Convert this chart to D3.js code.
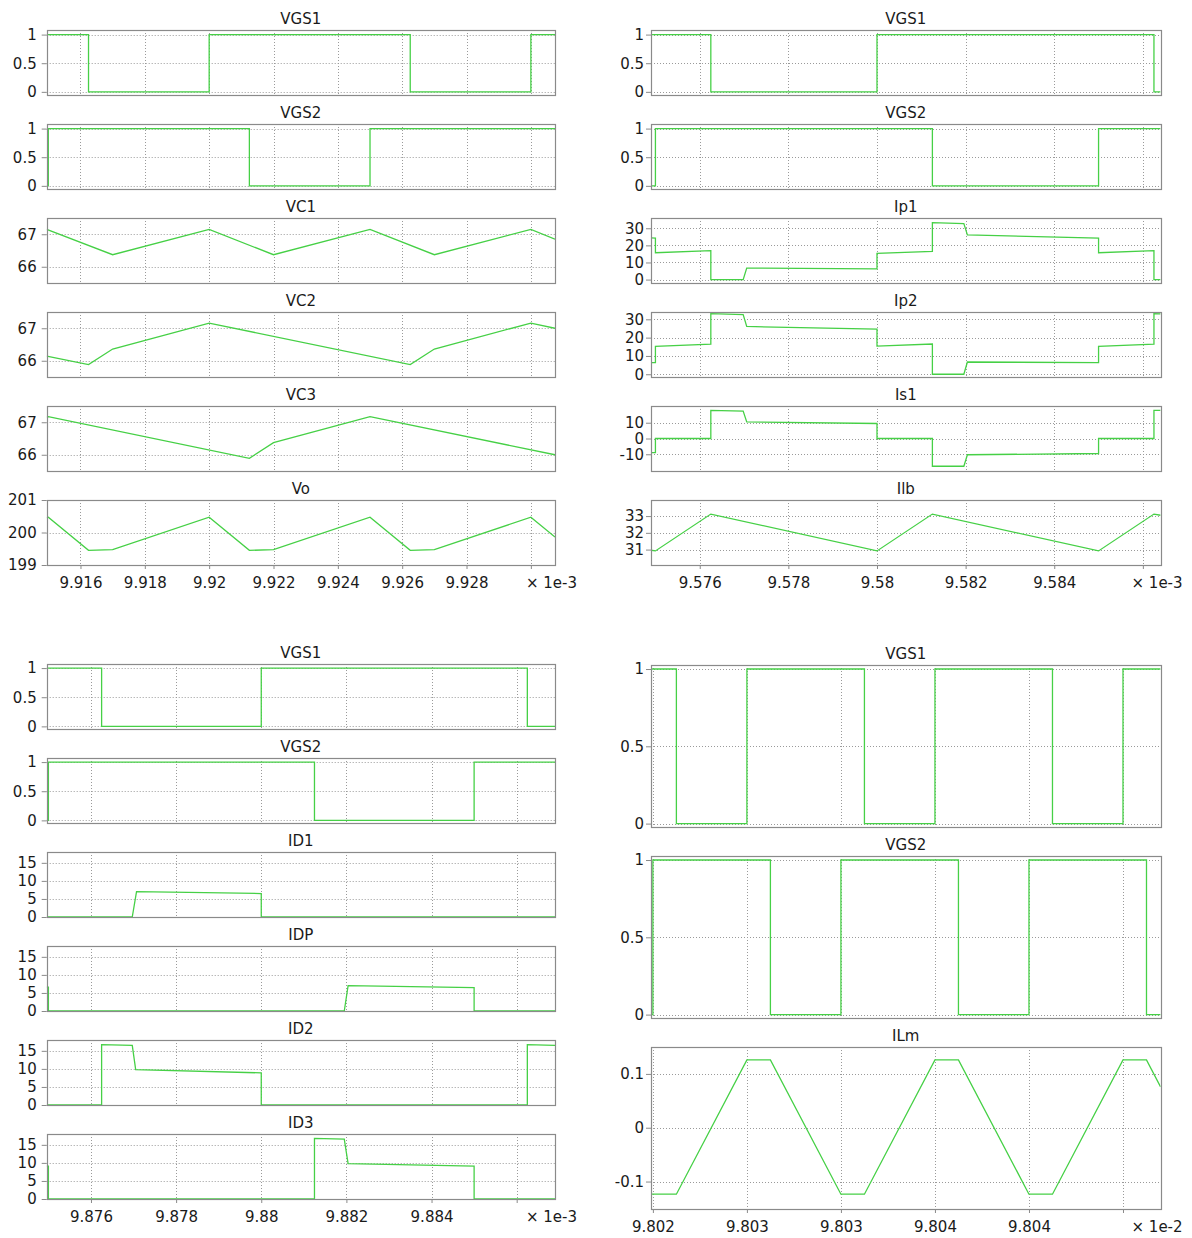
<!DOCTYPE html>
<html><head><meta charset="utf-8">
<script src="https://cdn.jsdelivr.net/npm/d3@7"></script>
<style>
body{margin:0;background:#fff;}
svg text{font-family:"DejaVu Sans",Verdana,sans-serif;font-size:15px;fill:#1a1a1a;}
</style>
</head><body>
<svg id="chart" width="1192" height="1238"></svg>
<script>
// ---------- DATA (time in displayed axis units, value) ----------
// Top-left quadrant (x × 1e-3)
const tlXDomain = [9.91495, 9.93075];
const tlXTicks = [9.916, 9.918, 9.920, 9.922, 9.924, 9.926, 9.928, 9.930];
const tlXLabels = ["9.916","9.918","9.92","9.922","9.924","9.926","9.928",""];
const tlVGS1 = [[9.91495,1],[9.91625,1],[9.91625,0],[9.920,0],[9.920,1],[9.92625,1],[9.92625,0],[9.930,0],[9.930,1],[9.93075,1]];
const tlVGS2 = [[9.91495,0],[9.915,0],[9.915,1],[9.92125,1],[9.92125,0],[9.925,0],[9.925,1],[9.93075,1]];
const tlVC1 = [[9.91495,67.15],[9.917,66.37],[9.920,67.15],[9.922,66.37],[9.925,67.15],[9.927,66.37],[9.930,67.15],[9.93075,66.85]];
const tlVC2 = [[9.91495,66.14],[9.91625,65.88],[9.917,66.36],[9.920,67.16],[9.92625,65.88],[9.927,66.36],[9.930,67.16],[9.93075,67.0]];
const tlVC3 = [[9.91495,67.16],[9.915,67.17],[9.92125,65.89],[9.922,66.37],[9.925,67.17],[9.93075,66.0]];
const tlVo = [[9.91495,200.46],[9.915,200.47],[9.91625,199.45],[9.917,199.47],[9.920,200.47],[9.92125,199.45],[9.922,199.47],[9.925,200.47],[9.92625,199.45],[9.927,199.47],[9.930,200.47],[9.93075,199.86]];

// Top-right quadrant (x × 1e-3)
const trXDomain = [9.5749, 9.5864];
const trXTicks = [9.576, 9.578, 9.580, 9.582, 9.584, 9.586];
const trXLabels = ["9.576","9.578","9.58","9.582","9.584",""];
const trVGS1 = [[9.5749,1],[9.57625,1],[9.57625,0],[9.580,0],[9.580,1],[9.58625,1],[9.58625,0],[9.5864,0]];
const trVGS2 = [[9.5749,0],[9.575,0],[9.575,1],[9.58125,1],[9.58125,0],[9.585,0],[9.585,1],[9.5864,1]];
const trIp1 = [[9.5749,24.4],[9.575,24.3],[9.575,15.7],[9.57625,16.9],[9.57625,0],[9.57698,0],[9.57706,6.7],[9.580,6.3],[9.580,15.3],[9.58125,16.5],[9.58125,33.3],[9.58196,32.7],[9.58204,26.1],[9.585,24.3],[9.585,15.7],[9.58625,16.9],[9.58625,0],[9.5864,0]];
const trIp2 = [[9.5749,6.4],[9.575,6.4],[9.575,15.2],[9.57625,16.5],[9.57625,33.1],[9.57698,32.6],[9.57706,26.1],[9.580,24.6],[9.580,15.4],[9.58125,16.5],[9.58125,0],[9.58196,0],[9.58204,6.7],[9.585,6.3],[9.585,15.2],[9.58625,16.5],[9.58625,33.1],[9.5864,33.0]];
const trIs1 = [[9.5749,-9.0],[9.575,-9.0],[9.575,0],[9.57625,0],[9.57625,17.8],[9.57698,17.4],[9.57706,10.5],[9.580,9.5],[9.580,0],[9.58125,0],[9.58125,-17.6],[9.58196,-17.6],[9.58204,-10.3],[9.585,-9.5],[9.585,0],[9.58625,0],[9.58625,17.8],[9.5864,17.8]];
const trIlb = [[9.5749,30.96],[9.575,30.92],[9.57625,33.12],[9.580,30.92],[9.58125,33.12],[9.585,30.92],[9.58625,33.12],[9.5864,33.05]];

// Bottom-left quadrant (x × 1e-3)
const blXDomain = [9.87496, 9.8869];
const blXTicks = [9.876, 9.878, 9.880, 9.882, 9.884, 9.886];
const blXLabels = ["9.876","9.878","9.88","9.882","9.884",""];
const blVGS1 = [[9.87496,1],[9.87625,1],[9.87625,0],[9.880,0],[9.880,1],[9.88625,1],[9.88625,0],[9.8869,0]];
const blVGS2 = [[9.87496,0],[9.875,0],[9.875,1],[9.88125,1],[9.88125,0],[9.885,0],[9.885,1],[9.8869,1]];
const blID1 = [[9.87496,0],[9.87697,0],[9.87707,7.0],[9.880,6.5],[9.880,0],[9.8869,0]];
const blIDP = [[9.87496,6.6],[9.875,6.6],[9.875,0],[9.88195,0],[9.88204,7.0],[9.885,6.5],[9.885,0],[9.8869,0]];
const blID2 = [[9.87496,0],[9.87625,0],[9.87625,16.7],[9.87697,16.5],[9.87705,9.8],[9.880,8.9],[9.880,0],[9.88625,0],[9.88625,16.7],[9.8869,16.5]];
const blID3 = [[9.87496,9.1],[9.875,9.1],[9.875,0],[9.88125,0],[9.88125,16.8],[9.88195,16.6],[9.88204,9.8],[9.885,9.1],[9.885,0],[9.8869,0]];

// Bottom-right quadrant (x × 1e-2)
const brXDomain = [9.80199, 9.8047];
const brXTicks = [9.802, 9.8025, 9.803, 9.8035, 9.804, 9.8045];
const brXLabels = ["9.802","9.803","9.803","9.804","9.804",""];
const brVGS1 = [[9.80199,1],[9.802125,1],[9.802125,0],[9.8025,0],[9.8025,1],[9.803125,1],[9.803125,0],[9.8035,0],[9.8035,1],[9.804125,1],[9.804125,0],[9.8045,0],[9.8045,1],[9.8047,1]];
const brVGS2 = [[9.80199,0],[9.802,0],[9.802,1],[9.802625,1],[9.802625,0],[9.803,0],[9.803,1],[9.803625,1],[9.803625,0],[9.804,0],[9.804,1],[9.804625,1],[9.804625,0],[9.8047,0]];
const brILm = [[9.80199,-0.1235],[9.802125,-0.1235],[9.8025,0.126],[9.802625,0.126],[9.803,-0.1235],[9.803125,-0.1235],[9.8035,0.126],[9.803625,0.126],[9.804,-0.1235],[9.804125,-0.1235],[9.8045,0.126],[9.804625,0.126],[9.8047,0.076]];

// y tick values
const vgsTicks = [0, 0.5, 1];
const vcTicks = [66, 67];
const voTicks = [199, 200, 201];
const ipTicks = [0, 10, 20, 30];
const isTicks = [-10, 0, 10];
const ilbTicks = [31, 32, 33];
const idTicks = [0, 5, 10, 15];
const ilmTicks = [-0.1, 0, 0.1];

// ---------- LAYOUT ----------
const quadrants = [
  {x0:46.7, x1:555, tops:[30,124,218,312,406,500], h:65, gap:10, xPad:8, xDomain:tlXDomain, xTicks:tlXTicks, xLabels:tlXLabels, exp:"× 1e-3",
   panels:[["VGS1",tlVGS1,[-0.055,1.08],vgsTicks],["VGS2",tlVGS2,[-0.055,1.08],vgsTicks],["VC1",tlVC1,[65.5,67.5],vcTicks],
           ["VC2",tlVC2,[65.5,67.5],vcTicks],["VC3",tlVC3,[65.5,67.5],vcTicks],["Vo",tlVo,[199,201],voTicks]]},
  {x0:651, x1:1160.6, tops:[30,124,218,312,406,500], h:65, gap:7, xPad:8, xDomain:trXDomain, xTicks:trXTicks, xLabels:trXLabels, exp:"× 1e-3",
   panels:[["VGS1",trVGS1,[-0.055,1.08],vgsTicks],["VGS2",trVGS2,[-0.055,1.08],vgsTicks],["Ip1",trIp1,[-2,36],ipTicks],
           ["Ip2",trIp2,[-1.5,34],ipTicks],["Is1",trIs1,[-20.6,20.6],isTicks],["Ilb",trIlb,[30.08,33.96],ilbTicks]]},
  {x0:46.7, x1:555, tops:[664,758,852,946,1040,1134], h:65, gap:10, xPad:8, xDomain:blXDomain, xTicks:blXTicks, xLabels:blXLabels, exp:"× 1e-3",
   panels:[["VGS1",blVGS1,[-0.045,1.07],vgsTicks],["VGS2",blVGS2,[-0.045,1.07],vgsTicks],["ID1",blID1,[0,18],idTicks],
           ["IDP",blIDP,[0,18],idTicks],["ID2",blID2,[0,18],idTicks],["ID3",blID3,[0,18],idTicks]]},
  {x0:651, x1:1160.6, tops:[665,856,1047], h:162, gap:7, xPad:8, xDomain:brXDomain, xTicks:brXTicks, xLabels:brXLabels, exp:"× 1e-2",
   panels:[["VGS1",brVGS1,[-0.022,1.026],vgsTicks],["VGS2",brVGS2,[-0.022,1.026],vgsTicks],["ILm",brILm,[-0.151,0.15],ilmTicks]]}
];

const svg = d3.select("#chart");
const lineColor = "#46d046";
let clipId = 0;

quadrants.forEach(q => {
  const x = d3.scaleLinear().domain(q.xDomain).range([q.x0, q.x1]);
  q.panels.forEach((p, i) => {
    const [title, data, yDom, yTicks] = p;
    const y0 = q.tops[i], y1 = y0 + q.h;
    const y = d3.scaleLinear().domain(yDom).range([y1, y0]);
    const g = svg.append("g");
    const cid = "clip" + (clipId++);
    g.append("clipPath").attr("id", cid).append("rect")
      .attr("x", q.x0).attr("y", y0).attr("width", q.x1 - q.x0).attr("height", q.h);
    // grid
    g.selectAll(".vg").data(q.xTicks).join("line")
      .attr("x1", d => Math.round(x(d)) + 0.5).attr("x2", d => Math.round(x(d)) + 0.5)
      .attr("y1", y0).attr("y2", y1)
      .attr("stroke", "#9a9a9a").attr("stroke-width", 1).attr("stroke-dasharray", "1,2");
    g.selectAll(".hg").data(yTicks).join("line")
      .attr("x1", q.x0).attr("x2", q.x1)
      .attr("y1", d => Math.round(y(d)) + 0.5).attr("y2", d => Math.round(y(d)) + 0.5)
      .attr("stroke", "#9a9a9a").attr("stroke-width", 1).attr("stroke-dasharray", "1,2");
    // signal
    g.append("path").datum(data)
      .attr("clip-path", `url(#${cid})`)
      .attr("fill", "none").attr("stroke", lineColor).attr("stroke-width", 1.3)
      .attr("d", d3.line().x(d => x(d[0])).y(d => y(d[1])));
    // frame
    g.append("rect").attr("x", Math.round(q.x0) + 0.5).attr("y", y0 + 0.5)
      .attr("width", Math.round(q.x1 - q.x0)).attr("height", q.h)
      .attr("fill", "none").attr("stroke", "#8a8a8a").attr("stroke-width", 1.2);
    // y axis
    const ya = g.append("g").attr("transform", `translate(${q.x0},0)`)
      .call(d3.axisLeft(y).tickValues(yTicks).tickSize(5).tickPadding(q.gap - 5).tickFormat(d => String(d)));
    ya.select(".domain").remove();
    ya.selectAll("line").attr("stroke", "#8a8a8a");
    ya.selectAll("text").attr("font-size", 15).attr("font-family", "DejaVu Sans").attr("fill", "#1a1a1a");
    // title
    g.append("text").attr("x", (q.x0 + q.x1) / 2).attr("y", y0 - 6)
      .attr("text-anchor", "middle").text(title);
    // x axis on last panel
    if (i === q.panels.length - 1) {
      const xa = g.append("g").attr("transform", `translate(0,${y1})`)
        .call(d3.axisBottom(x).tickValues(q.xTicks).tickSize(4).tickPadding(q.xPad)
          .tickFormat((d, k) => q.xLabels[k]));
      xa.select(".domain").remove();
      xa.selectAll("line").attr("stroke", "#8a8a8a");
      xa.selectAll("text").attr("font-size", 15).attr("font-family", "DejaVu Sans").attr("fill", "#1a1a1a");
      g.append("text").attr("x", q.x1 + 22).attr("y", y1 + q.xPad + 15)
        .attr("text-anchor", "end").text(q.exp);
    }
  });
});
</script>
</body></html>
